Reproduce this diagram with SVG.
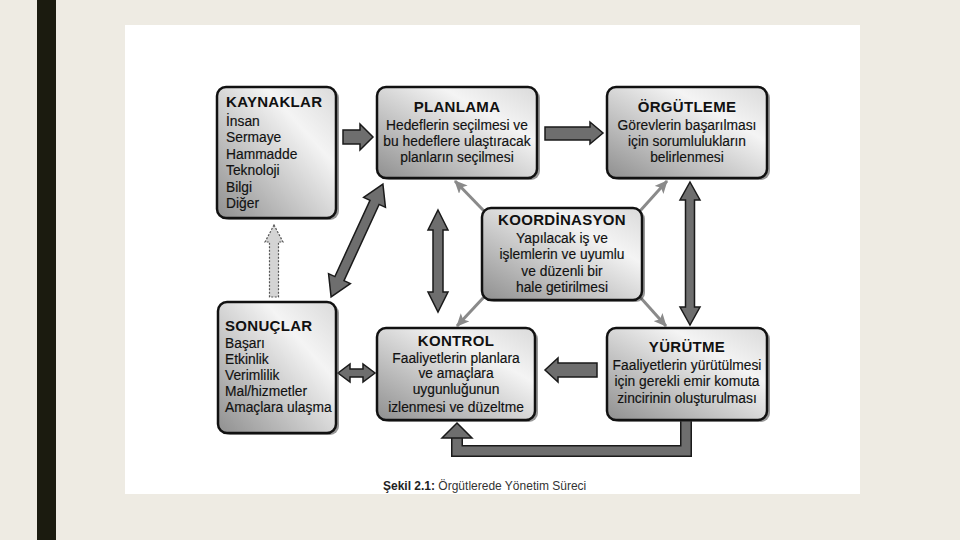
<svg xmlns="http://www.w3.org/2000/svg" width="960" height="540" viewBox="0 0 960 540">
<defs>
<linearGradient id="boxg" x1="0" y1="1" x2="1" y2="0">
<stop offset="0" stop-color="#8f8f8f"/>
<stop offset="0.7" stop-color="#f4f4f4"/>
<stop offset="1" stop-color="#dadada"/>
</linearGradient>
<marker id="thin" markerUnits="userSpaceOnUse" markerWidth="14" markerHeight="12" refX="12" refY="6" orient="auto">
<path d="M0,0 L13,6 L0,12 L3,6 Z" fill="#8a8a8a"/>
</marker>
<style>
.box{fill:url(#boxg);stroke:#111;stroke-width:2.5}
.sh{fill:#444;opacity:.55}
.t{font-family:"Liberation Sans",Arial,sans-serif;font-size:15px;font-weight:bold;fill:#111;letter-spacing:.3px}
.b{font-family:"Liberation Sans",Arial,sans-serif;font-size:13.8px;fill:#111;stroke:#111;stroke-width:.15px}
.c{text-anchor:middle}
.fat{fill:#6e6e6e;stroke:#1a1a1a;stroke-width:1.5;stroke-linejoin:miter}
.co{stroke:#8a8a8a;stroke-width:3;fill:none}
.cap{font-family:"Liberation Sans",Arial,sans-serif;font-size:12px;fill:#333}
</style>
</defs>
<rect width="960" height="540" fill="#eeebe3"/>
<rect x="37" y="0" width="19" height="540" fill="#1b1b0f"/>
<rect x="125" y="25" width="735" height="469" fill="#ffffff"/>

<g id="connectors">
<polygon class="fat" points="343,130 360,130 360,124 373,137 360,150 360,144 343,144"/>
<polygon class="fat" points="545,127 590,127 590,122 603,133 590,144 590,140 545,140"/>
<polygon class="fat" points="597,363 558,363 558,358 545,370 558,382 558,377 597,377"/>
<polygon class="fat" points="690,182 700,200 694.5,200 694.5,307 700,307 690,325 680,307 685.5,307 685.5,200 680,200"/>
<polygon class="fat" points="438,210 448,230 443,230 443,292 448,292 438,312 428,292 433,292 433,230 428,230"/>
<polygon class="fat" transform="translate(357,240.5) rotate(-65.3)" points="-62,0 -42,-12 -42,-5 42,-5 42,-12 62,0 42,12 42,5 -42,5 -42,12"/>
<polygon class="fat" points="338,373 350,364 350,369 363,369 363,364 375,373 363,382 363,377 350,377 350,382"/>
<polygon points="274,225 283,242 278.5,242 278.5,297 269.5,297 269.5,242 265,242" fill="#d4d4d4" stroke="#555" stroke-width="1.2" stroke-dasharray="2 1.5"/>
<line class="co" x1="484" y1="211" x2="455" y2="181" marker-end="url(#thin)"/>
<line class="co" x1="640" y1="211" x2="667" y2="181" marker-end="url(#thin)"/>
<line class="co" x1="484" y1="297" x2="457" y2="326" marker-end="url(#thin)"/>
<line class="co" x1="640" y1="297" x2="666" y2="326" marker-end="url(#thin)"/>
<path d="M686,419 V451 H457 V436" fill="none" stroke="#1a1a1a" stroke-width="12" stroke-linejoin="miter"/>
<path d="M686,419 V451 H457 V436" fill="none" stroke="#6e6e6e" stroke-width="9" stroke-linejoin="miter"/>
<polygon class="fat" points="457,423 472,438 442,438"/>
</g>

<g id="kaynaklar">
<rect class="sh" x="220" y="89" width="119" height="131" rx="9"/>
<rect class="box" x="217" y="87" width="119" height="131" rx="9"/>
<text class="t" x="226" y="107">KAYNAKLAR</text>
<text class="b" x="226" y="126">İnsan</text>
<text class="b" x="226" y="142">Sermaye</text>
<text class="b" x="226" y="159">Hammadde</text>
<text class="b" x="226" y="175">Teknoloji</text>
<text class="b" x="226" y="192">Bilgi</text>
<text class="b" x="226" y="208">Diğer</text>
</g>

<g id="planlama">
<rect class="sh" x="380" y="89" width="160" height="91" rx="9"/>
<rect class="box" x="377" y="87" width="160" height="91" rx="9"/>
<text class="t c" x="457" y="112">PLANLAMA</text>
<text class="b c" x="457" y="130">Hedeflerin seçilmesi ve</text>
<text class="b c" x="457" y="146">bu hedeflere ulaştıracak</text>
<text class="b c" x="457" y="162">planların seçilmesi</text>
</g>

<g id="orgutleme">
<rect class="sh" x="610" y="89" width="160" height="91" rx="9"/>
<rect class="box" x="607" y="87" width="160" height="91" rx="9"/>
<text class="t c" x="687" y="112">ÖRGÜTLEME</text>
<text class="b c" x="687" y="130">Görevlerin başarılması</text>
<text class="b c" x="687" y="146">için sorumlulukların</text>
<text class="b c" x="687" y="162">belirlenmesi</text>
</g>

<g id="koordinasyon">
<rect class="sh" x="485" y="210" width="160" height="92" rx="9"/>
<rect class="box" x="482" y="208" width="160" height="92" rx="9"/>
<text class="t c" x="562" y="225">KOORDİNASYON</text>
<text class="b c" x="562" y="243">Yapılacak iş ve</text>
<text class="b c" x="562" y="259">işlemlerin ve uyumlu</text>
<text class="b c" x="562" y="276">ve düzenli bir</text>
<text class="b c" x="562" y="292">hale getirilmesi</text>
</g>

<g id="sonuclar">
<rect class="sh" x="221" y="304" width="118" height="131" rx="9"/>
<rect class="box" x="218" y="302" width="118" height="131" rx="9"/>
<text class="t" x="225" y="331">SONUÇLAR</text>
<text class="b" x="225" y="348">Başarı</text>
<text class="b" x="225" y="364">Etkinlik</text>
<text class="b" x="225" y="380">Verimlilik</text>
<text class="b" x="225" y="396">Mal/hizmetler</text>
<text class="b" x="225" y="412">Amaçlara ulaşma</text>
</g>

<g id="kontrol">
<rect class="sh" x="380" y="330" width="158" height="92" rx="9"/>
<rect class="box" x="377" y="328" width="158" height="92" rx="9"/>
<text class="t c" x="456" y="346">KONTROL</text>
<text class="b c" x="456" y="363">Faaliyetlerin planlara</text>
<text class="b c" x="456" y="378">ve amaçlara</text>
<text class="b c" x="456" y="394">uygunluğunun</text>
<text class="b c" x="456" y="412">izlenmesi ve düzeltme</text>
</g>

<g id="yurutme">
<rect class="sh" x="610" y="330" width="160" height="92" rx="9"/>
<rect class="box" x="607" y="328" width="160" height="92" rx="9"/>
<text class="t c" x="687" y="352">YÜRÜTME</text>
<text class="b c" x="687" y="370">Faaliyetlerin yürütülmesi</text>
<text class="b c" x="687" y="386">için gerekli emir komuta</text>
<text class="b c" x="687" y="403">zincirinin oluşturulması</text>
</g>

<text class="cap" x="383" y="490"><tspan font-weight="bold" fill="#222">Şekil 2.1:</tspan> Örgütlerede Yönetim Süreci</text>
</svg>
